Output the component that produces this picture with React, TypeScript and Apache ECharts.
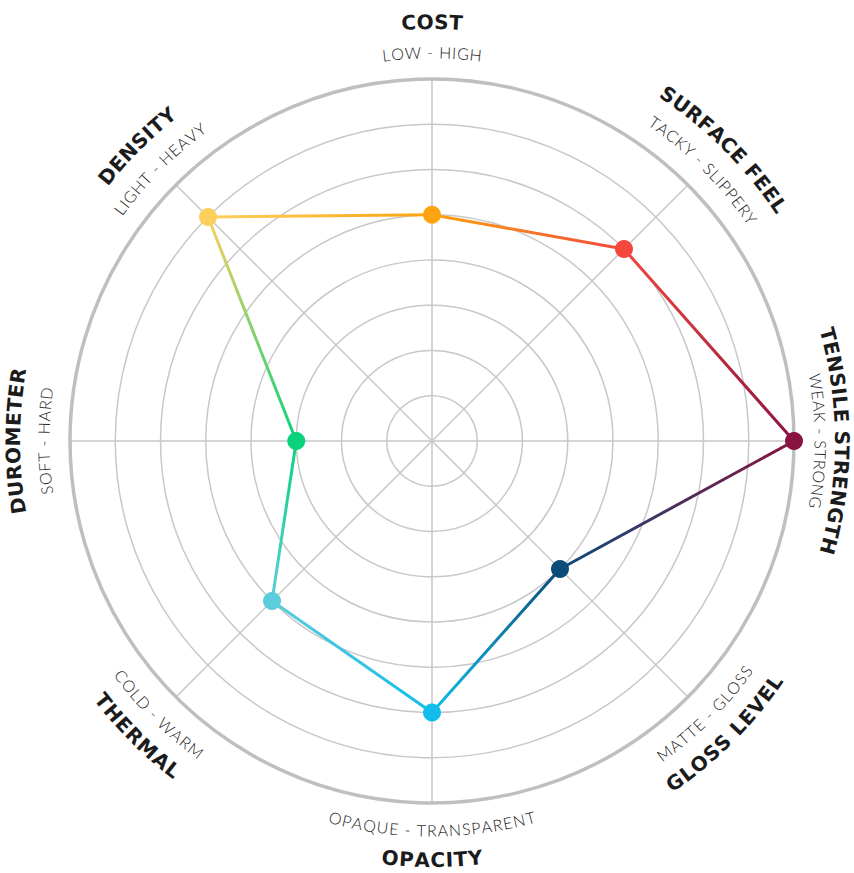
import React, { useEffect, useRef } from "react";
import * as echarts from "echarts";

// ---- data ----
const categories = ["COST", "SURFACE FEEL", "TENSILE STRENGTH", "GLOSS LEVEL", "OPACITY", "THERMAL", "DUROMETER", "DENSITY"];
const subtitles = ["LOW - HIGH", "TACKY - SLIPPERY", "WEAK - STRONG", "MATTE - GLOSS", "OPAQUE - TRANSPARENT", "COLD - WARM", "SOFT - HARD", "LIGHT - HEAVY"];
const values = [5, 6, 8, 4, 6, 5, 3, 7];
const pointColors = ["#FCA30F", "#F4473E", "#8A1440", "#0C4C78", "#12BDEB", "#5CCDDC", "#0AD27A", "#FDD05E"];
const radiusMax = 8;

// ---- layout ----
const W = 854;
const H = 873;
const CX = 432;
const CY = 441;
const R = 362;
const TITLE_R = 419;
const SUB_R = 389;
const EDGE_TITLE_R = 410; // keeps the right-hand title inside the page

const measureCtx = typeof document !== "undefined" ? document.createElement("canvas").getContext("2d") : null;

function arcText(text: string, o: { fontSize: number; fontWeight: any; fontFamily: string; r: number; angle: number; topsOut: boolean; spacing: number; fill: string }) {
  const font = `${o.fontWeight} ${o.fontSize}px ${o.fontFamily}`;
  const chars = Array.from(text);
  let w: number[];
  if (measureCtx) {
    measureCtx.font = font;
    w = chars.map((c) => measureCtx.measureText(c).width);
  } else {
    w = chars.map(() => o.fontSize * 0.6);
  }
  const total = w.reduce((a, b) => a + b, 0) + o.spacing * (chars.length - 1);
  let s = -total / 2;
  const th0 = (o.angle * Math.PI) / 180;
  return chars.map((c, k) => {
    const mid = s + w[k] / 2;
    s += w[k] + o.spacing;
    const th = o.topsOut ? th0 + mid / o.r : th0 - mid / o.r;
    const x = CX + o.r * Math.sin(th);
    const y = CY - o.r * Math.cos(th);
    const rotation = o.topsOut ? -th : Math.PI - th;
    return {
      type: "text",
      x,
      y,
      rotation,
      silent: true,
      style: {
        text: c,
        fontSize: o.fontSize,
        fontWeight: o.fontWeight,
        fontFamily: o.fontFamily,
        fill: o.fill,
        align: "center",
        verticalAlign: "middle",
      },
    };
  });
}

export default function App() {
  const ref = useRef<HTMLDivElement>(null);
  useEffect(() => {
    document.body.style.margin = "0";
    if (!ref.current) return;
    const chart = echarts.init(ref.current, null, { renderer: "svg" });
    const n = categories.length;
    const step = 360 / n;

    const segData = values.map((v, i) => {
      const j = (i + 1) % n;
      return [v, i * step, values[j], (i + 1) * step, i];
    });
    const pointData = values.map((v, i) => ({ value: [v, i * step], itemStyle: { color: pointColors[i], opacity: 1 } }));

    const labels: any[] = [];
    categories.forEach((cat, i) => {
      const angle = i * step;
      const topsOut = !(angle > 90 && angle < 270);
      labels.push(
        ...arcText(cat, {
          fontSize: 20,
          fontWeight: "bold",
          fontFamily: '"DejaVu Sans", sans-serif',
          r: angle === 90 ? EDGE_TITLE_R : TITLE_R,
          angle,
          topsOut,
          spacing: 0.6,
          fill: "#1b1b1b",
        })
      );
      labels.push(
        ...arcText(subtitles[i], {
          fontSize: 16,
          fontWeight: 300,
          fontFamily: 'Lato, "Open Sans", sans-serif',
          r: SUB_R,
          angle,
          topsOut,
          spacing: 0.9,
          fill: "#222222",
        })
      );
    });

    chart.setOption({
      animation: false,
      backgroundColor: "#ffffff",
      polar: { center: [CX, CY], radius: R },
      angleAxis: {
        type: "value",
        min: 0,
        max: 360,
        interval: step,
        startAngle: 90,
        clockwise: true,
        axisLine: { show: true, lineStyle: { color: "#bfbfbf", width: 3.5 } },
        axisTick: { show: false },
        axisLabel: { show: false },
        splitLine: { show: true, lineStyle: { color: "#c8c8c8", width: 1.5 } },
      },
      radiusAxis: {
        type: "value",
        min: 0,
        max: radiusMax,
        interval: 1,
        axisLine: { show: false },
        axisTick: { show: false },
        axisLabel: { show: false },
        splitLine: { show: true, lineStyle: { color: "#c8c8c8", width: 1.5 } },
      },
      series: [
        {
          type: "custom",
          coordinateSystem: "polar",
          data: segData,
          z: 3,
          silent: true,
          renderItem: (params: any, api: any) => {
            const i = api.value(4);
            const j = (i + 1) % n;
            const p1 = api.coord([api.value(0), api.value(1)]);
            const p2 = api.coord([api.value(2), api.value(3)]);
            return {
              type: "line",
              shape: { x1: p1[0], y1: p1[1], x2: p2[0], y2: p2[1] },
              style: {
                stroke: new echarts.graphic.LinearGradient(
                  p1[0], p1[1], p2[0], p2[1],
                  [
                    { offset: 0, color: pointColors[i] },
                    { offset: 1, color: pointColors[j] },
                  ],
                  true
                ),
                lineWidth: 3,
                lineCap: "round",
              },
            };
          },
        },
        {
          type: "scatter",
          coordinateSystem: "polar",
          symbol: "circle",
          symbolSize: 18,
          z: 4,
          silent: true,
          itemStyle: { opacity: 1 },
          data: pointData,
        },
      ],
      graphic: { elements: labels },
    });
    return () => chart.dispose();
  }, []);
  return <div ref={ref} style={{ width: W, height: H }} />;
}
